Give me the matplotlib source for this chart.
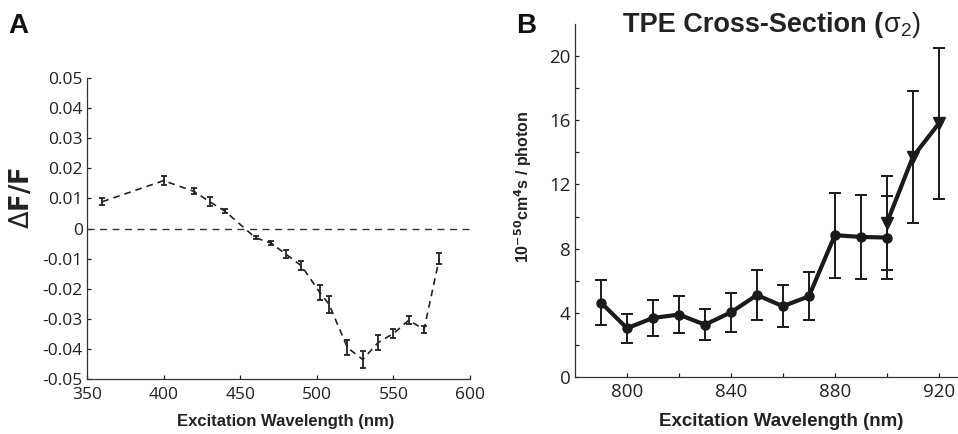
import numpy as np
import matplotlib
matplotlib.use('Agg')
import matplotlib.pyplot as plt

# Panel A: dF/F vs excitation wavelength
wl_a = [360, 400, 420, 430, 440, 460, 470, 480, 490, 502, 508, 520, 530, 540, 550, 560, 570, 580]
dff = [0.0089, 0.0159, 0.0123, 0.0089, 0.0058, -0.0031, -0.0048, -0.0086, -0.0124, -0.0213,
       -0.0252, -0.0396, -0.0435, -0.0379, -0.0349, -0.0305, -0.0335, -0.0100]
dff_err = [0.0011, 0.0014, 0.0010, 0.0014, 0.0007, 0.0005, 0.0006, 0.0013, 0.0015, 0.0024,
           0.0029, 0.0025, 0.0027, 0.0024, 0.0014, 0.0013, 0.0012, 0.0017]

# Panel B: two-photon cross-section
wl_b = [790, 800, 810, 820, 830, 840, 850, 860, 870, 880, 890, 900]
sigma = [4.64, 3.04, 3.68, 3.89, 3.26, 4.03, 5.11, 4.41, 5.03, 8.84, 8.73, 8.69]
sigma_err = [1.4, 0.9, 1.1, 1.15, 0.95, 1.2, 1.55, 1.3, 1.5, 2.65, 2.6, 2.6]
wl_b2 = [900, 910, 920]
sigma2 = [9.6, 13.72, 15.8]
sigma2_err = [2.9, 4.1, 4.7]

tick_font = 'Open Sans'
label_font = 'Liberation Sans'

fig = plt.figure(figsize=(9.58, 4.34), dpi=100)

# ---- A ----
ax = fig.add_axes([0.0908, 0.1267, 0.3998, 0.6936])
ax.axhline(0, color='#333333', lw=1.0, ls=(0, (5, 4)))
ax.errorbar(wl_a, dff, yerr=dff_err, color='#222222', lw=1.2, ls=(0, (4, 3)),
            elinewidth=1.3, capsize=2.5, capthick=1.3)
ax.set_xlim(350, 600)
ax.set_ylim(-0.05, 0.05)
ax.set_xticks([350, 400, 450, 500, 550, 600])
ax.set_yticks(np.arange(-0.05, 0.051, 0.01))
ax.set_yticklabels(['-0.05', '-0.04', '-0.03', '-0.02', '-0.01', '0',
                    '0.01', '0.02', '0.03', '0.04', '0.05'])
for s in ['top', 'right']:
    ax.spines[s].set_visible(False)
for s in ['left', 'bottom']:
    ax.spines[s].set_color('#333333')
    ax.spines[s].set_linewidth(0.9)
ax.tick_params(direction='in', length=3, width=0.9, labelsize=12.5, colors='#222222')
ax.tick_params(axis='x', pad=6)
ax.tick_params(axis='y', pad=3)
for lab in ax.get_xticklabels() + ax.get_yticklabels():
    lab.set_fontfamily(tick_font)
ax.set_xlabel('Excitation Wavelength (nm)', fontsize=12, fontweight='bold',
              family=label_font, color='#222222')
ax.xaxis.set_label_coords(0.52, -0.115)
ax.set_ylabel(r'$\Delta$F/F', fontsize=18.5, fontweight='bold', family='DejaVu Sans',
              color='#222222')
ax.yaxis.set_label_coords(-0.137, 0.6)
fig.text(0.009, 0.925, 'A', fontsize=20, fontweight='bold', family=label_font, color='#111111')

# ---- B ----
bx = fig.add_axes([0.6002, 0.1313, 0.3988, 0.8134])
bx.errorbar(wl_b, sigma, yerr=sigma_err, color='#1a1a1a', lw=3, marker='o', ms=6.5,
            elinewidth=1.4, capsize=4, capthick=1.4, zorder=3)
bx.errorbar(wl_b2, sigma2, yerr=sigma2_err, color='#1a1a1a', lw=3, marker='v', ms=8,
            elinewidth=1.4, capsize=4, capthick=1.4, zorder=3)
bx.set_xlim(780, 927)
bx.set_ylim(0, 22)
bx.set_xticks([800, 840, 880, 920])
bx.set_xticks([820, 860, 900], minor=True)
bx.set_yticks([0, 4, 8, 12, 16, 20])
bx.set_yticks([2, 6, 10, 14, 18], minor=True)
for s in ['top', 'right']:
    bx.spines[s].set_visible(False)
for s in ['left', 'bottom']:
    bx.spines[s].set_color('#333333')
    bx.spines[s].set_linewidth(0.9)
bx.tick_params(which='both', direction='in', length=3, width=0.9, labelsize=13.5,
               colors='#222222')
bx.tick_params(axis='x', which='both', pad=4)
bx.tick_params(axis='y', which='both', pad=3)
for lab in bx.get_xticklabels() + bx.get_yticklabels():
    lab.set_fontfamily(tick_font)
bx.set_xlabel('Excitation Wavelength (nm)', fontsize=13.5, fontweight='bold',
              family=label_font, color='#222222')
bx.xaxis.set_label_coords(0.54, -0.103)
bx.set_ylabel(r'10$^{\mathbf{-50}}$cm$^{\mathbf{4}}$s / photon', fontsize=11.5, fontweight='bold',
              family=label_font, color='#222222')
bx.yaxis.set_label_coords(-0.107, 0.54)
fig.text(0.539, 0.925, 'B', fontsize=20, fontweight='bold', family=label_font, color='#111111')
fig.text(0.9215, 0.926, 'TPE Cross-Section (', fontsize=19.5, fontweight='bold',
         family=label_font, color='#222222', ha='right', va='baseline')
fig.text(0.9215, 0.926, r'$\mathregular{\sigma_2}$)', fontsize=19.5, family=label_font,
         color='#222222', ha='left', va='baseline')

fig.savefig('out.png', dpi=100)
